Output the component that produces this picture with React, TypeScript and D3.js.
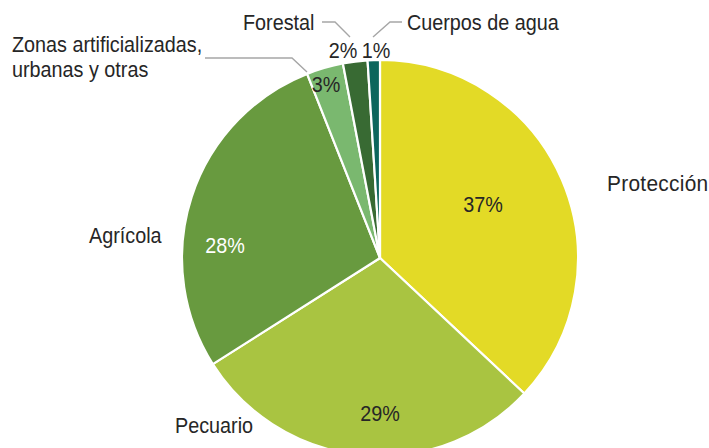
import React, { useEffect } from 'react';
import * as d3 from 'd3';

// Land use share (%), clockwise from 12 o'clock
const categories = ['Protección', 'Pecuario', 'Agrícola', 'Zonas artificializadas, urbanas y otras', 'Forestal', 'Cuerpos de agua'];
const values = [37, 29, 28, 3, 2, 1];
const pctLabels = ['37%', '29%', '28%', '3%', '2%', '1%'];
const colors = ['#E3DA26', '#A9C441', '#689A3F', '#7AB86F', '#386A33', '#0C665C'];

const W = 709;
const H = 448;
const cx = 380;
const cy = 258;
const R = 198;
const FS = 22;
const SX = 0.9; // narrow look

// label layout (pixel positions for text)
const pctPos: [number, number, string][] = [
  [483, 212, '#262626'],
  [380, 421, '#262626'],
  [225, 253, '#ffffff'],
  [326, 92, '#262626'],
  [343, 58, '#262626'],
  [376, 58, '#262626'],
];
const namePos: { x: number; y: number; sx: number }[] = [
  { x: 607, y: 191, sx: 0.95 },
  { x: 175, y: 433, sx: SX },
  { x: 89, y: 243, sx: SX },
  { x: 12, y: 52, sx: SX },
  { x: 243, y: 30, sx: SX },
  { x: 407, y: 30, sx: SX },
];
const leaders: [number, number][][] = [
  [[205, 58], [292, 58], [307, 72]],
  [[322, 22], [335, 22], [350, 37]],
  [[402, 22], [390, 22], [373, 37]],
];

const font = "'Liberation Sans', Arial, sans-serif";

export default function App() {
  useEffect(() => {
    document.body.style.margin = '0';
  }, []);

  const pie = d3.pie<number>().sort(null).value(d => d);
  const arcs = pie(values);
  const arc = d3.arc<d3.PieArcDatum<number>>().innerRadius(0).outerRadius(R);
  const line = d3.line();

  return (
    <svg width={W} height={H} style={{ display: 'block', background: '#fff' }} fontFamily={font}>
      <g transform={`translate(${cx},${cy})`}>
        {arcs.map((a, i) => (
          <path key={i} d={arc(a) || ''} fill={colors[i]} stroke="#fff" strokeWidth={2.2} strokeLinejoin="round" />
        ))}
      </g>
      {leaders.map((pts, i) => (
        <path key={i} d={line(pts) || ''} fill="none" stroke="#A6A6A6" strokeWidth={1.4} />
      ))}
      {pctPos.map(([x, y, c], i) => (
        <text key={i} transform={`translate(${x},${y}) scale(0.9,1)`} textAnchor="middle" fontSize={FS} fill={c}>{pctLabels[i]}</text>
      ))}
      {namePos.map((p, i) => {
        const name = categories[i];
        const tr = `translate(${p.x},${p.y}) scale(${p.sx},1)`;
        if (i === 3) {
          return (
            <text key={i} transform={tr} fontSize={FS} fill="#262626">
              <tspan x={0}>Zonas artificializadas,</tspan>
              <tspan x={0} dy={25}>urbanas y otras</tspan>
            </text>
          );
        }
        return (
          <text key={i} transform={tr} fontSize={FS} fill="#262626" letterSpacing={i === 0 ? 0.3 : 0}>{name}</text>
        );
      })}
    </svg>
  );
}
